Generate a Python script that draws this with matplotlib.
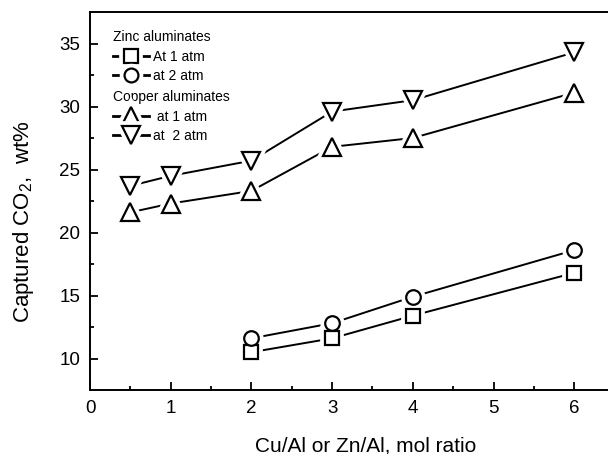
import matplotlib
matplotlib.use("Agg")
import matplotlib.pyplot as plt
from matplotlib.lines import Line2D
from matplotlib.legend_handler import HandlerTuple

plt.rcParams["font.family"] = ["Liberation Sans", "DejaVu Sans"]
plt.rcParams["mathtext.default"] = "regular"

# zinc aluminates
zn_x = [2, 3, 4, 6]
zn_1atm = [10.5, 11.6, 13.4, 16.8]
zn_2atm = [11.6, 12.8, 14.9, 18.6]
# copper aluminates
cu_x = [0.5, 1, 2, 3, 4, 6]
cu_1atm = [21.6, 22.3, 23.3, 26.8, 27.5, 31.1]
cu_2atm = [23.7, 24.5, 25.7, 29.6, 30.5, 34.3]

W, H = 608, 454
fig = plt.figure(figsize=(W / 100, H / 100), dpi=100)
ax = fig.add_axes([90 / W, 64 / H, 524.6 / W, 378 / H])

series = [
    (zn_x, zn_1atm, "s", 10, "At 1 atm"),
    (zn_x, zn_2atm, "o", 10.5, "at 2 atm"),
    (cu_x, cu_1atm, "^", 13, " at 1 atm"),
    (cu_x, cu_2atm, "v", 13, "at  2 atm"),
]
handles = []
for x, y, m, ms, lab in series:
    ax.plot(x, y, "-", color="black", lw=1.4, zorder=2)
    # white halo gives the gap between line and marker
    ax.plot(x, y, ls="none", marker=m, ms=ms, mfc="white", mec="white", mew=7, zorder=3)
    ax.plot(x, y, ls="none", marker=m, ms=ms, mfc="white", mec="black", mew=1.6, zorder=4)
    h = (Line2D([], [], color="black", lw=2.0),
         Line2D([], [], ls="none", marker=m, ms=ms * 0.95, mfc="white", mec="white", mew=7),
         Line2D([], [], ls="none", marker=m, ms=ms * 0.95, mfc="white", mec="black", mew=1.6))
    handles.append((h, lab))

ax.set_xlim(0, 6.5)
ax.set_ylim(7.5, 37.5)
ax.set_xticks(range(0, 7))
ax.set_xticks([0.5 + i for i in range(6)], minor=True)
ax.set_yticks([10, 15, 20, 25, 30, 35])
ax.set_yticks([12.5, 17.5, 22.5, 27.5, 32.5], minor=True)
ax.tick_params(which="both", direction="in", top=False, right=False, width=1.3, labelsize=13.5)
ax.tick_params(which="major", length=5.5)
ax.tick_params(which="minor", length=3)
ax.tick_params(axis="x", pad=7.5)
ax.tick_params(axis="y", pad=7)
for s in ax.spines.values():
    s.set_linewidth(1.4)
ax.spines["right"].set_visible(False)

ax.set_xlabel("Cu/Al or Zn/Al, mol ratio", fontsize=15)
ax.set_ylabel("Captured CO$_2$,  wt%", fontsize=16)
ax.xaxis.set_label_coords(0.526, -0.122)
ax.yaxis.set_label_coords(-0.103, 0.444)

hm = {tuple: HandlerTuple(ndivide=1)}
kw = dict(alignment="left", loc="upper left", frameon=False, fontsize=10, title_fontsize=10,
          handlelength=2.6, handletextpad=0.25, labelspacing=0.40, borderpad=0,
          borderaxespad=0, handler_map=hm)
leg1 = ax.legend([h for h, _ in handles[:2]], [l for _, l in handles[:2]],
                 title="Zinc aluminates", bbox_to_anchor=(0.044, 0.952), **kw)
ax.add_artist(leg1)
ax.legend([h for h, _ in handles[2:]], [l for _, l in handles[2:]],
          title="Copper aluminates", bbox_to_anchor=(0.044, 0.793), **kw)

fig.savefig("out.png", dpi=100)
